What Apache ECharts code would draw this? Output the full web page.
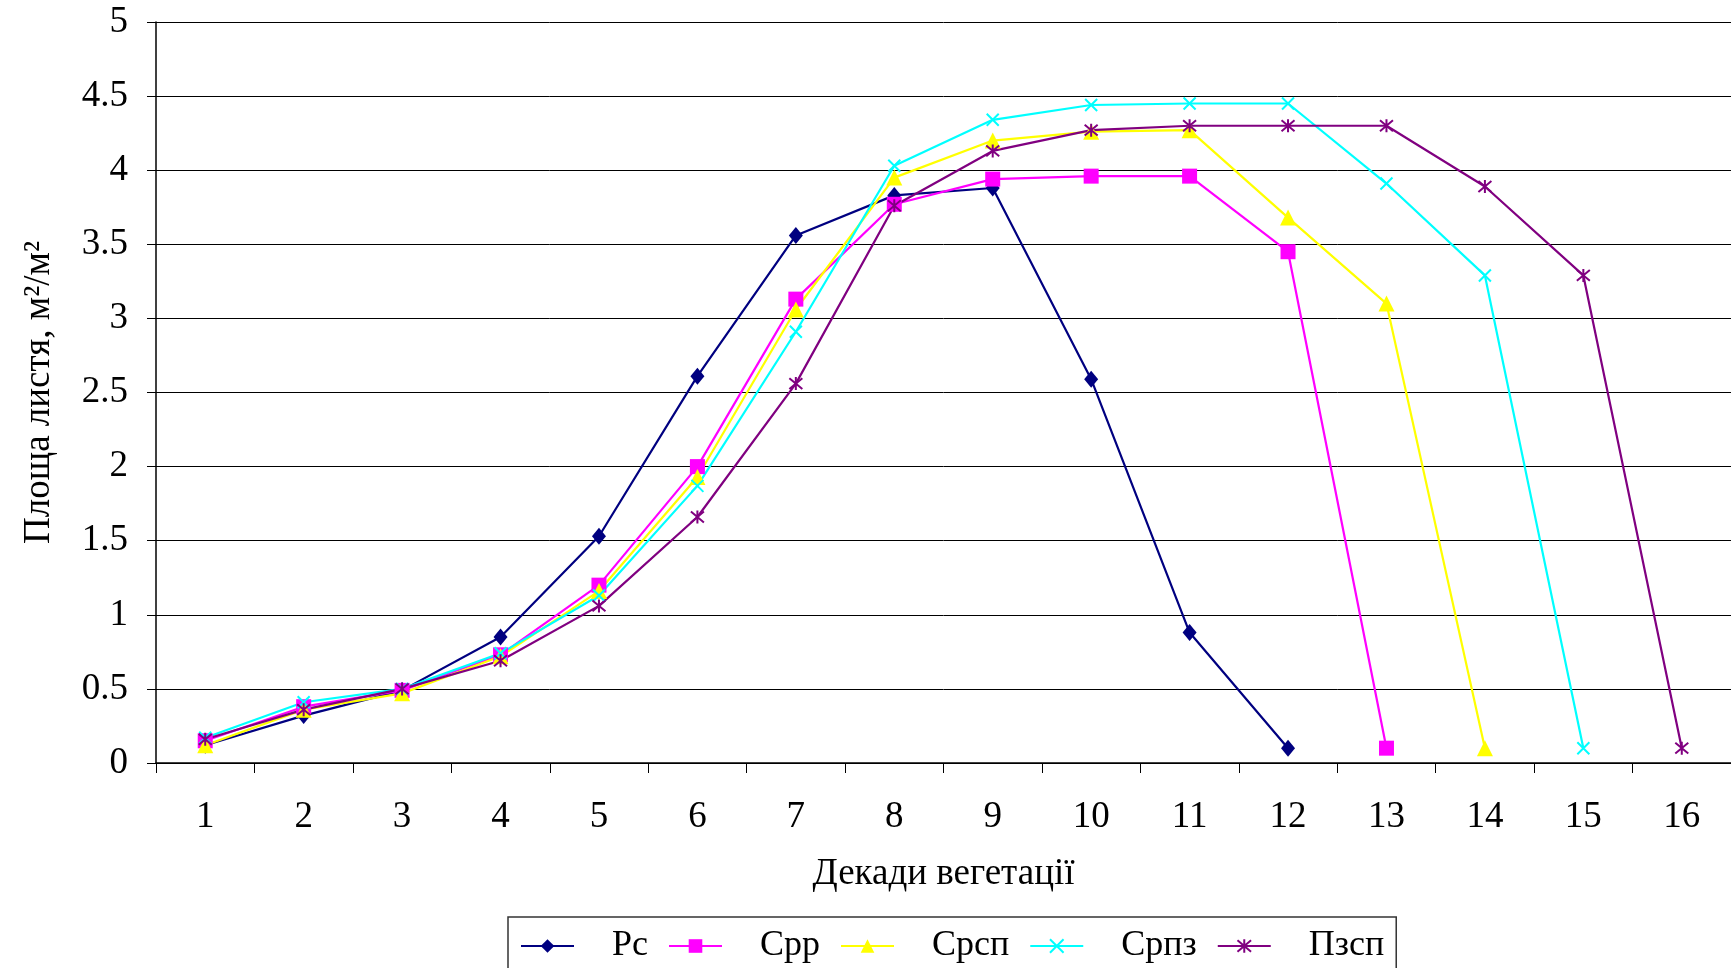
<!DOCTYPE html>
<html>
<head>
<meta charset="utf-8">
<script src="https://cdn.jsdelivr.net/npm/echarts@6/dist/echarts.min.js"></script>
<style>
  html, body { margin: 0; padding: 0; background: #fff; }
  #chart { width: 1731px; height: 968px; }
</style>
</head>
<body>
<div id="chart"></div>
<script>
// Leaf area by ten-day period of vegetation
const decades = ['1','2','3','4','5','6','7','8','9','10','11','12','13','14','15','16'];
const yTicks = [0, 0.5, 1, 1.5, 2, 2.5, 3, 3.5, 4, 4.5, 5];

const seriesNames = ['Рс', 'Срр', 'Срсп', 'Српз', 'Пзсп'];
const rc   = [0.12, 0.32, 0.49, 0.85, 1.53, 2.61, 3.56, 3.83, 3.88, 2.59, 0.88, 0.10, null, null, null, null];
const srr  = [0.15, 0.38, 0.49, 0.73, 1.20, 2.00, 3.13, 3.77, 3.94, 3.96, 3.96, 3.45, 0.10, null, null, null];
const srsp = [0.12, 0.36, 0.47, 0.72, 1.16, 1.93, 3.06, 3.95, 4.20, 4.26, 4.27, 3.68, 3.10, 0.10, null, null];
const srpz = [0.17, 0.41, 0.50, 0.74, 1.13, 1.87, 2.91, 4.03, 4.34, 4.44, 4.45, 4.45, 3.91, 3.29, 0.10, null];
const pzsp = [0.16, 0.36, 0.50, 0.69, 1.06, 1.66, 2.56, 3.76, 4.13, 4.27, 4.30, 4.30, 4.30, 3.89, 3.29, 0.10];

const colors = ['#000080', '#FF00FF', '#FFFF00', '#00FFFF', '#800080'];
const FONT = '"Liberation Serif", "Times New Roman", serif';

const crossPath = 'path://M0,0L10,10M10,0L0,10';
const starPath = 'path://M0,0L10,10M10,0L0,10M5,-1L5,11';

function lineSeries(name, data, color, symbol, size, stroke) {
  return {
    name: name,
    type: 'line',
    data: data,
    symbol: symbol,
    symbolSize: size,
    showAllSymbol: true,
    lineStyle: { color: color, width: 2.2 },
    itemStyle: stroke
      ? { color: color, borderColor: color, borderWidth: 2 }
      : { color: color, borderWidth: 0 },
    emphasis: { disabled: true },
    z: 2
  };
}

const chart = echarts.init(document.getElementById('chart'), null, { renderer: 'canvas' });

chart.setOption({
  animation: false,
  backgroundColor: '#ffffff',
  textStyle: { fontFamily: FONT, color: '#000' },
  grid: { left: 156, right: 0, top: 22, bottom: 205, containLabel: false },
  legend: {
    data: seriesNames,
    left: 508,
    top: 917,
    orient: 'horizontal',
    itemWidth: 53,
    itemHeight: 17,
    itemGap: 20,
    padding: [11, 12, 40, 12],
    borderColor: '#333',
    borderWidth: 1.5,
    textStyle: { fontFamily: FONT, fontSize: 36, color: '#000', padding: [0, 0, 0, 33] }
  },
  xAxis: {
    type: 'category',
    data: decades,
    boundaryGap: true,
    name: 'Декади вегетації',
    nameLocation: 'middle',
    nameGap: 93,
    nameTextStyle: { fontFamily: FONT, fontSize: 37, color: '#000' },
    axisLine: { lineStyle: { color: '#000', width: 1.5 } },
    axisTick: { show: true, interval: 0, length: 10, lineStyle: { color: '#000', width: 1 } },
    axisLabel: { fontFamily: FONT, fontSize: 37, color: '#000', margin: 36, interval: 0 },
    splitLine: { show: false }
  },
  yAxis: {
    type: 'value',
    min: yTicks[0],
    max: yTicks[yTicks.length - 1],
    interval: 0.5,
    name: 'Площа листя, м²/м²',
    nameLocation: 'middle',
    nameGap: 98,
    nameTextStyle: { fontFamily: FONT, fontSize: 37, color: '#000' },
    axisLine: { show: true, lineStyle: { color: '#000', width: 1.5 } },
    axisTick: { show: true, length: 9, lineStyle: { color: '#000', width: 1 } },
    axisLabel: { fontFamily: FONT, fontSize: 37, color: '#000', margin: 28 },
    splitLine: { show: true, lineStyle: { color: '#000', width: 1 } }
  },
  series: [
    lineSeries(seriesNames[0], rc,   colors[0], 'diamond',  [14, 17], false),
    lineSeries(seriesNames[1], srr,  colors[1], 'rect',     15, false),
    lineSeries(seriesNames[2], srsp, colors[2], 'triangle', 16, false),
    lineSeries(seriesNames[3], srpz, colors[3], crossPath,  12, true),
    lineSeries(seriesNames[4], pzsp, colors[4], starPath,   13, true)
  ]
});
</script>
</body>
</html>
